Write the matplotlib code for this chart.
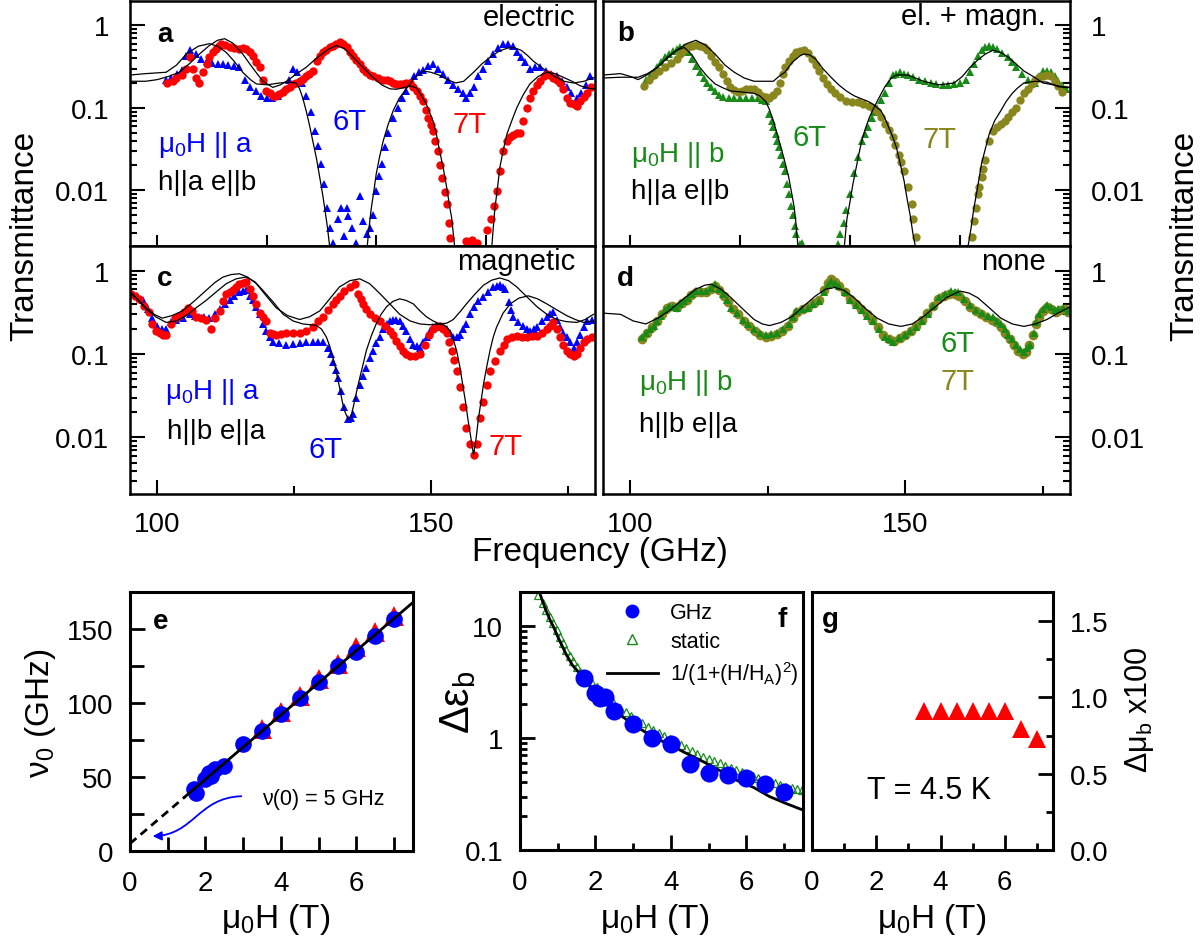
import matplotlib

matplotlib.use("Agg")
import matplotlib.pyplot as plt
import numpy as np
from matplotlib.lines import Line2D
from matplotlib.patches import FancyArrowPatch
from matplotlib.path import Path
from matplotlib.ticker import FixedLocator, FuncFormatter, LogLocator, NullFormatter

plt.rcParams["font.family"] = ["Liberation Sans", "DejaVu Sans"]
plt.rcParams["mathtext.fontset"] = "custom"
plt.rcParams["mathtext.rm"] = "Liberation Sans"
plt.rcParams["mathtext.it"] = "Liberation Sans:italic"
plt.rcParams["mathtext.bf"] = "Liberation Sans:bold"

W, H = 1200, 945
BLUE, RED, GREEN, OLIVE = "#0000ff", "#ff0000", "#178a17", "#8a861e"

# ── spectra (frequency GHz, transmittance) ──────────────────────────
# panel a: electric, mu0H || a
a_6T = [(101.5, 0.22), (102.5, 0.23), (103.5, 0.26), (104.5, 0.29), (105.3, 0.42), (106, 0.50),
        (107, 0.45), (108, 0.39), (109, 0.37), (110, 0.35), (111, 0.34), (112, 0.34), (113, 0.33),
        (114, 0.32), (115, 0.31), (116, 0.22), (117, 0.18), (118, 0.16), (119, 0.14), (120, 0.13),
        (121, 0.13), (122, 0.14), (123, 0.16), (124, 0.22), (124.8, 0.30), (125.6, 0.27), (126.4, 0.2),
        (127.2, 0.14), (128, 0.09), (128.8, 0.052), (129.4, 0.034), (130, 0.021), (130.5, 0.012),
        (131, 0.006), (131.6, 0.0035), (132.1, 0.0023), (133, 0.0045), (133.6, 0.006), (134.2, 0.0028),
        (134.6, 0.0061), (134.9, 0.0048), (135.5, 0.0035), (136.4, 0.0023), (137, 0.0085),
        (137.6, 0.0042), (138.3, 0.0029), (138.8, 0.0035), (139.4, 0.005), (140, 0.0097), (140.5, 0.015),
        (141, 0.021), (141.6, 0.033), (142.2, 0.05), (143.1, 0.076), (144, 0.1), (144.8, 0.13),
        (145.5, 0.16), (146.2, 0.2), (147, 0.24), (147.8, 0.27), (148.6, 0.29), (149.5, 0.32),
        (150.4, 0.34), (151.3, 0.30), (152.3, 0.26), (153.2, 0.22), (154.1, 0.19), (155, 0.17),
        (155.8, 0.15), (156.5, 0.13), (157.2, 0.15), (157.9, 0.18), (158.7, 0.24), (159.6, 0.30),
        (160.5, 0.37), (161.4, 0.45), (162.3, 0.53), (163.2, 0.60), (164.1, 0.60), (165, 0.57),
        (165.7, 0.47), (166.4, 0.41), (167.2, 0.36), (168.1, 0.30), (169, 0.31), (170, 0.31),
        (171, 0.28), (172, 0.26), (173, 0.24), (174, 0.21), (174.8, 0.18), (175.7, 0.15),
        (176.7, 0.13), (177.5, 0.15), (178.3, 0.19), (179.1, 0.245)]
a_7T = [(101.8, 0.20), (102.8, 0.21), (103.4, 0.23), (104.5, 0.25), (105.3, 0.30), (105.9, 0.41),
        (106.5, 0.30), (107.1, 0.23), (107.7, 0.20), (108.3, 0.27), (109, 0.34), (109.5, 0.41),
        (110.2, 0.47), (110.7, 0.52), (111.2, 0.56), (111.7, 0.60), (112.4, 0.58), (113.2, 0.55),
        (114, 0.53), (115, 0.52), (115.6, 0.53), (116.2, 0.52), (116.9, 0.47), (117.5, 0.43),
        (118.1, 0.36), (118.7, 0.31), (119.3, 0.22), (119.9, 0.16), (120.5, 0.15), (121.1, 0.14),
        (121.7, 0.14), (122.3, 0.146), (123, 0.155), (123.6, 0.17), (124.2, 0.18), (124.8, 0.195),
        (125.4, 0.20), (126, 0.21), (126.6, 0.225), (127.2, 0.245), (127.8, 0.26), (128.4, 0.28),
        (129.1, 0.37), (129.7, 0.42), (130.3, 0.47), (130.9, 0.51), (131.5, 0.54), (132.1, 0.57),
        (132.7, 0.60), (133.3, 0.63), (134, 0.60), (134.6, 0.54), (135.2, 0.48), (135.8, 0.43),
        (136.4, 0.38), (137, 0.34), (137.6, 0.30), (138.2, 0.27), (138.8, 0.25), (139.4, 0.245),
        (140.3, 0.23), (141.3, 0.22), (142, 0.215), (142.5, 0.21), (143.1, 0.2), (143.7, 0.195),
        (144.3, 0.195), (144.9, 0.195), (145.5, 0.2), (146.2, 0.2), (146.8, 0.18), (147.4, 0.16),
        (148, 0.14), (148.6, 0.12), (149.1, 0.095), (149.5, 0.076), (150, 0.062), (150.4, 0.052),
        (150.8, 0.04), (151.3, 0.03), (151.7, 0.02), (152, 0.014), (152.5, 0.0095), (152.9, 0.0067),
        (153.3, 0.004), (153.5, 0.0026), (156.4, 0.0024), (157, 0.0022), (157.5, 0.0025),
        (158.4, 0.0023), (160.2, 0.0033), (161, 0.0045), (161.5, 0.0065), (162, 0.0097),
        (162.6, 0.017), (163.2, 0.03), (163.9, 0.04), (164.5, 0.044), (165.1, 0.047), (165.7, 0.049),
        (166.3, 0.05), (166.9, 0.07), (167.5, 0.1), (168.1, 0.13), (168.7, 0.16), (169.4, 0.19),
        (170, 0.21), (170.6, 0.24), (171.2, 0.26), (171.8, 0.25), (172.4, 0.23), (173, 0.215),
        (173.6, 0.20), (174.2, 0.17), (174.8, 0.13), (175.5, 0.115), (176.1, 0.11), (176.7, 0.105),
        (177.3, 0.12), (177.9, 0.135), (178.5, 0.15), (179.2, 0.18)]
a_fit6 = [(95, 0.25), (97.9, 0.26), (101.6, 0.27), (103.5, 0.33), (105.3, 0.45), (107.5, 0.56),
          (109.5, 0.60), (111, 0.56), (112.6, 0.47), (114, 0.37), (115.6, 0.27), (117, 0.22),
          (118.1, 0.195), (120, 0.19), (122.3, 0.20), (124, 0.205), (125.4, 0.2), (126, 0.17),
          (126.6, 0.13), (127.2, 0.092), (127.8, 0.062), (128.4, 0.04), (129.1, 0.024), (129.7, 0.0141),
          (130.2, 0.009), (130.6, 0.006), (131.1, 0.0035), (131.6, 0.0018), (132, 0.001), (138, 0.001),
          (138.3, 0.0019), (138.7, 0.0035), (139.1, 0.006), (139.6, 0.01), (140, 0.0156), (140.6, 0.025),
          (141.3, 0.04), (142.2, 0.063), (143.1, 0.092), (144.2, 0.13), (145.5, 0.17), (147, 0.23),
          (148.6, 0.28), (150, 0.27), (151.5, 0.25), (153, 0.22), (154.5, 0.2), (156, 0.21),
          (157.8, 0.27), (159.3, 0.34), (160.8, 0.41), (162.5, 0.49), (164, 0.53), (165.1, 0.54),
          (166.5, 0.5), (167.7, 0.43), (168.7, 0.37), (170.5, 0.3), (172.4, 0.245), (174.3, 0.21),
          (176.1, 0.2), (178, 0.21), (180, 0.235)]
a_fit7 = [(95, 0.21), (97.9, 0.21), (100, 0.22), (102, 0.24), (104, 0.27), (106, 0.35), (107.7, 0.45),
          (109.5, 0.57), (111, 0.66), (112.3, 0.69), (113.8, 0.61), (115.6, 0.45), (117.5, 0.3),
          (119.3, 0.21), (121.1, 0.177), (122.5, 0.19), (123.6, 0.21), (125.5, 0.26), (127.2, 0.31),
          (128.5, 0.37), (129.7, 0.43), (131.2, 0.51), (132.7, 0.57), (134.3, 0.52), (135.8, 0.41),
          (137.6, 0.31), (139.4, 0.235), (141, 0.19), (142.5, 0.17), (143.7, 0.168), (144.9, 0.175),
          (146.2, 0.185), (147.4, 0.174), (148.3, 0.14), (149.2, 0.11), (150.4, 0.069), (151, 0.048),
          (151.6, 0.03), (152.3, 0.018), (152.9, 0.0107), (153.4, 0.0065), (153.8, 0.0046),
          (154.4, 0.0019), (154.8, 0.001), (160.8, 0.001), (161.1, 0.0019), (161.4, 0.0035),
          (161.7, 0.006), (162.2, 0.011), (162.6, 0.0188), (163.2, 0.03), (163.9, 0.048), (164.8, 0.07),
          (165.7, 0.1), (166.9, 0.145), (168.1, 0.195), (169.6, 0.24), (171.2, 0.27), (172.7, 0.26),
          (174.2, 0.235), (175.8, 0.21), (177.3, 0.185), (179, 0.172), (180, 0.17)]

# panel b: el. + magn., mu0H || b
b_6T = [(102.8, 0.22), (103.5, 0.24), (104.2, 0.27), (104.9, 0.31), (105.6, 0.36), (106.3, 0.41),
        (107, 0.45), (107.7, 0.49), (108.4, 0.52), (109.1, 0.54), (109.8, 0.54), (110.5, 0.47),
        (111.2, 0.39), (111.9, 0.32), (112.6, 0.27), (113.3, 0.23), (114, 0.2), (114.7, 0.18),
        (115.4, 0.16), (116.1, 0.145), (116.8, 0.135), (117.9, 0.13), (118.9, 0.13), (120, 0.13),
        (121.1, 0.13), (122.1, 0.13), (123.2, 0.13), (124, 0.125), (124.6, 0.12), (125.3, 0.084),
        (125.7, 0.07), (126, 0.058), (126.4, 0.048), (126.7, 0.04), (127.1, 0.033), (127.4, 0.027),
        (127.8, 0.021), (128.1, 0.017), (128.5, 0.012), (128.8, 0.009), (129.2, 0.0065), (129.5, 0.005),
        (129.9, 0.0037), (130.2, 0.0029), (130.9, 0.0022), (131.3, 0.0023), (137.8, 0.0022),
        (138.2, 0.0029), (138.8, 0.004), (139.3, 0.0058), (140, 0.009), (140.7, 0.016), (141.4, 0.025),
        (142.1, 0.04), (142.6, 0.048), (143.2, 0.058), (143.9, 0.076), (144.4, 0.088), (144.9, 0.1),
        (145.6, 0.125), (146.3, 0.15), (147, 0.2), (147.7, 0.25), (148.4, 0.26), (149.1, 0.27),
        (149.8, 0.26), (150.5, 0.25), (151.5, 0.235), (152.6, 0.22), (153.6, 0.21), (154.7, 0.2),
        (155.7, 0.195), (156.8, 0.19), (157.8, 0.19), (158.9, 0.195), (160, 0.2), (161.1, 0.22),
        (161.8, 0.27), (162.5, 0.34), (163.2, 0.42), (163.9, 0.5), (164.6, 0.54), (165.3, 0.57),
        (166, 0.55), (166.7, 0.52), (167.7, 0.46), (168.8, 0.41), (169.5, 0.36), (170.2, 0.31),
        (171.2, 0.26), (172.3, 0.22), (173, 0.2), (173.7, 0.2), (174.4, 0.24), (175.1, 0.28),
        (175.8, 0.28), (176.5, 0.27), (177.2, 0.24), (177.9, 0.21), (178.6, 0.19), (179.3, 0.17)]
b_7T = [(102.5, 0.186), (103.3, 0.22), (104.2, 0.25), (105.2, 0.28), (106.3, 0.31), (107.3, 0.35),
        (108.4, 0.39), (109.1, 0.45), (109.8, 0.5), (110.5, 0.55), (111.2, 0.57), (111.9, 0.58),
        (112.6, 0.57), (113.3, 0.54), (114, 0.5), (114.7, 0.43), (115.4, 0.36), (116.1, 0.31),
        (116.8, 0.26), (117.5, 0.21), (118.2, 0.18), (118.9, 0.165), (119.6, 0.155), (120.3, 0.16),
        (121.1, 0.17), (121.8, 0.17), (122.5, 0.168), (123.2, 0.155), (123.9, 0.14), (124.6, 0.135),
        (125.3, 0.13), (126, 0.145), (126.7, 0.16), (127.2, 0.2), (127.7, 0.26), (128.2, 0.31),
        (128.8, 0.37), (129.5, 0.42), (130.2, 0.47), (130.9, 0.49), (131.6, 0.5), (132.3, 0.46),
        (133, 0.39), (133.7, 0.33), (134.4, 0.28), (135.1, 0.23), (135.8, 0.195), (136.5, 0.17),
        (137.2, 0.15), (138.2, 0.135), (139.3, 0.12), (140.3, 0.118), (141.4, 0.116), (142.4, 0.112),
        (143.5, 0.106), (144.2, 0.1), (144.9, 0.092), (145.6, 0.078), (146.3, 0.064), (147, 0.054),
        (147.7, 0.044), (148.2, 0.035), (148.8, 0.027), (149.3, 0.022), (149.8, 0.017), (150.5, 0.0108),
        (151.2, 0.0068), (151.5, 0.0045), (151.9, 0.0027), (162.1, 0.0027), (162.5, 0.0042),
        (162.8, 0.006), (163.2, 0.009), (163.5, 0.011), (163.9, 0.0144), (164.2, 0.018), (164.6, 0.023),
        (165.3, 0.04), (166, 0.053), (166.7, 0.058), (167.4, 0.064), (168.1, 0.07), (168.8, 0.077),
        (169.5, 0.088), (170.2, 0.1), (170.9, 0.125), (171.6, 0.15), (172.3, 0.17), (173, 0.195),
        (173.7, 0.215), (174.4, 0.235), (175.1, 0.245), (175.8, 0.25), (176.5, 0.24), (177.2, 0.21),
        (177.9, 0.185), (178.6, 0.155)]
b_fit6 = [(95, 0.25), (98.2, 0.26), (100, 0.24), (101.4, 0.22), (103, 0.25), (104.9, 0.31),
          (106.7, 0.41), (108.4, 0.5), (109.8, 0.54), (111.2, 0.44), (112.6, 0.31), (114, 0.24),
          (115.4, 0.195), (116.8, 0.175), (118.2, 0.16), (120.5, 0.155), (122.5, 0.15), (123.5, 0.14),
          (124.6, 0.12), (125.3, 0.095), (126, 0.07), (126.7, 0.048), (127.4, 0.033), (128.1, 0.022),
          (128.8, 0.0144), (129.3, 0.0095), (129.8, 0.0062), (130.2, 0.0035), (130.5, 0.002),
          (130.8, 0.001), (138.6, 0.001), (138.9, 0.002), (139.4, 0.0045), (140, 0.0075), (140.5, 0.012),
          (141.1, 0.019), (141.6, 0.028), (142.1, 0.04), (142.8, 0.057), (143.5, 0.077), (144.2, 0.097),
          (144.9, 0.12), (146.3, 0.18), (147.5, 0.23), (148.4, 0.25), (150.5, 0.25), (153.3, 0.21),
          (156.1, 0.19), (158.9, 0.2), (160.4, 0.24), (161.8, 0.31), (163.2, 0.38), (164.6, 0.45),
          (166, 0.5), (167.4, 0.47), (168.8, 0.41), (170.2, 0.34), (171.6, 0.28), (173.3, 0.24),
          (175.1, 0.2), (177, 0.19), (178.6, 0.18), (180, 0.178)]
b_fit7 = [(95, 0.23), (98.2, 0.235), (101.4, 0.235), (103.1, 0.26), (104.9, 0.31), (106.7, 0.4),
          (108.4, 0.5), (110.2, 0.6), (111.9, 0.66), (113.6, 0.58), (115.4, 0.45), (117.2, 0.33),
          (118.9, 0.27), (120.7, 0.23), (122.5, 0.21), (124.5, 0.21), (126, 0.21), (127, 0.24),
          (128.1, 0.27), (129.5, 0.36), (130.9, 0.43), (131.6, 0.45), (132.6, 0.44), (133.7, 0.39),
          (135, 0.3), (136.5, 0.235), (137.9, 0.19), (139.3, 0.16), (140.7, 0.14), (142.1, 0.128),
          (143.2, 0.12), (144.2, 0.11), (144.9, 0.1), (145.6, 0.092), (146.3, 0.075), (147, 0.058),
          (147.7, 0.045), (148.4, 0.033), (149.1, 0.021), (149.8, 0.013), (150.4, 0.0075), (150.9, 0.005),
          (151.4, 0.003), (151.9, 0.002), (152.2, 0.001), (161.1, 0.001), (161.4, 0.002), (162, 0.0035),
          (162.5, 0.006), (163.2, 0.011), (163.9, 0.021), (164.6, 0.032), (165.3, 0.048), (166.3, 0.07),
          (167.4, 0.092), (168.4, 0.12), (169.5, 0.15), (170.5, 0.175), (171.6, 0.2), (173.7, 0.21),
          (175.8, 0.205), (177.9, 0.18), (180, 0.175)]

# panel c: magnetic, mu0H || a
c_6T = [(95.2, 0.53), (96.2, 0.50), (97.3, 0.45), (98.2, 0.35), (99.1, 0.27), (100, 0.22), (100.8, 0.2),
        (101.6, 0.2), (102.5, 0.24), (103.4, 0.26), (104.6, 0.27), (105.9, 0.3), (106.8, 0.29),
        (107.7, 0.28), (108.6, 0.28), (109.5, 0.27), (110.5, 0.3), (111.4, 0.35), (112.3, 0.4),
        (113.2, 0.45), (114.1, 0.5), (115, 0.55), (115.6, 0.57), (116.2, 0.58), (116.9, 0.5),
        (117.5, 0.44), (118.1, 0.37), (118.7, 0.30), (119.3, 0.23), (119.9, 0.19), (120.5, 0.16),
        (121.1, 0.14), (122.3, 0.135), (123.6, 0.13), (124.8, 0.133), (126, 0.135), (127.2, 0.14),
        (128.4, 0.14), (129.4, 0.14), (130.3, 0.14), (131.2, 0.12), (131.7, 0.1), (132.1, 0.08),
        (132.6, 0.064), (133, 0.052), (133.6, 0.036), (134.2, 0.023), (134.9, 0.0165), (135.4, 0.017),
        (135.8, 0.019), (136.4, 0.03), (137, 0.043), (137.6, 0.055), (138.2, 0.069), (138.8, 0.09),
        (139.4, 0.11), (140, 0.135), (140.7, 0.16), (141.3, 0.2), (141.9, 0.23), (142.5, 0.25),
        (143.1, 0.26), (143.7, 0.26), (144.3, 0.25), (144.9, 0.22), (145.5, 0.19), (146.2, 0.15),
        (146.8, 0.13), (147.4, 0.125), (148, 0.12), (148.6, 0.14), (149.2, 0.16), (149.8, 0.19),
        (150.4, 0.21), (151, 0.22), (151.6, 0.22), (152.3, 0.21), (152.9, 0.2), (153.5, 0.18),
        (154.1, 0.16), (154.7, 0.16), (155.3, 0.17), (155.9, 0.2), (156.5, 0.23), (157.2, 0.3),
        (157.8, 0.37), (158.7, 0.43), (159.6, 0.48), (160.5, 0.56), (161.4, 0.64), (162, 0.66),
        (162.6, 0.67), (163.1, 0.64), (163.6, 0.6), (164.2, 0.42), (164.6, 0.34), (165.1, 0.28),
        (166, 0.24), (166.9, 0.22), (167.5, 0.2), (168.1, 0.19), (168.8, 0.2), (169.4, 0.21),
        (170.3, 0.25), (171.2, 0.28), (171.8, 0.3), (172.4, 0.32), (173, 0.26), (173.6, 0.21),
        (174.2, 0.18), (174.8, 0.16), (175.5, 0.14), (176.1, 0.12), (176.7, 0.14), (177.3, 0.17),
        (177.9, 0.21), (178.5, 0.25), (179.4, 0.26)]
c_7T = [(95.2, 0.53), (96, 0.5), (96.7, 0.46), (97.6, 0.38), (98.5, 0.32), (99.1, 0.23), (99.8, 0.19),
        (100.4, 0.18), (101, 0.17), (101.6, 0.17), (102.5, 0.23), (103.2, 0.27), (104, 0.29),
        (104.8, 0.32), (105.6, 0.36), (106.3, 0.33), (107.1, 0.28), (108, 0.27), (108.9, 0.26),
        (109.8, 0.2), (110.6, 0.27), (111.4, 0.33), (112, 0.43), (112.6, 0.53), (113.2, 0.56),
        (113.8, 0.58), (114.4, 0.64), (115, 0.7), (115.6, 0.72), (116.2, 0.73), (116.9, 0.6),
        (117.5, 0.5), (118.1, 0.4), (118.7, 0.31), (119.3, 0.28), (119.9, 0.25), (120.5, 0.18),
        (121.1, 0.175), (121.7, 0.17), (122.6, 0.175), (123.6, 0.18), (124.8, 0.18), (126, 0.18),
        (127.2, 0.19), (128.4, 0.21), (129.4, 0.25), (130.3, 0.28), (131.2, 0.34), (132.1, 0.4),
        (132.7, 0.45), (133.3, 0.5), (134.2, 0.57), (135.2, 0.64), (136.1, 0.7), (136.7, 0.53),
        (137.2, 0.46), (137.6, 0.4), (138.2, 0.35), (138.8, 0.3), (139.7, 0.27), (140.7, 0.25),
        (141.6, 0.22), (142.5, 0.19), (143.1, 0.17), (143.7, 0.145), (144.3, 0.125), (144.9, 0.11),
        (145.5, 0.1), (146.2, 0.095), (147.1, 0.095), (148, 0.1), (148.9, 0.13), (149.7, 0.17),
        (150.4, 0.2), (151, 0.21), (151.6, 0.22), (152.3, 0.2), (152.9, 0.18), (153.4, 0.14),
        (153.8, 0.11), (154.2, 0.085), (154.7, 0.063), (155.3, 0.04), (155.9, 0.023), (156.5, 0.013),
        (157.1, 0.0083), (157.8, 0.0062), (158.4, 0.0083), (159, 0.017), (159.6, 0.027), (160.2, 0.043),
        (160.8, 0.063), (161.7, 0.083), (162.6, 0.11), (163.3, 0.13), (163.9, 0.15), (164.8, 0.16),
        (165.7, 0.165), (166.6, 0.16), (167.5, 0.16), (168.4, 0.165), (169.4, 0.165), (170.3, 0.18),
        (171.2, 0.2), (171.8, 0.22), (172.4, 0.24), (173, 0.2), (173.6, 0.16), (174.2, 0.13),
        (174.8, 0.11), (175.5, 0.1), (176.1, 0.095), (176.7, 0.1), (177.3, 0.12), (177.9, 0.14),
        (178.5, 0.15), (179.4, 0.16)]
c_fit6 = [(95.2, 0.53), (96.5, 0.44), (97.9, 0.35), (99.7, 0.28), (101.6, 0.24), (103.5, 0.25),
          (105.3, 0.29), (107.1, 0.36), (108.9, 0.44), (110.8, 0.56), (112.6, 0.7), (114.4, 0.8),
          (116.2, 0.84), (117.8, 0.74), (119.3, 0.58), (121.2, 0.42), (123, 0.3), (124.8, 0.25),
          (126.6, 0.23), (128, 0.225), (129.1, 0.22), (130, 0.2), (130.9, 0.16), (131.5, 0.125),
          (132.1, 0.091), (132.7, 0.062), (133.3, 0.04), (133.8, 0.027), (134.2, 0.021), (134.9, 0.0165),
          (135.4, 0.018), (135.8, 0.023), (136.4, 0.035), (137, 0.052), (137.6, 0.075), (138.2, 0.11),
          (139.1, 0.165), (140, 0.23), (140.9, 0.3), (141.9, 0.37), (143.1, 0.43), (144.3, 0.46),
          (145.5, 0.44), (146.8, 0.4), (148, 0.33), (149.2, 0.28), (150.4, 0.25), (151.6, 0.23),
          (152.9, 0.235), (154.1, 0.26), (155.3, 0.32), (156.5, 0.4), (158, 0.52), (159.6, 0.67),
          (161.1, 0.77), (162.6, 0.82), (164.2, 0.76), (165.7, 0.64), (167.5, 0.49), (169.4, 0.37),
          (171.2, 0.3), (173, 0.26), (174.8, 0.245), (176.7, 0.24), (178.2, 0.26), (179.7, 0.3)]
c_fit7 = [(95.2, 0.55), (96.5, 0.45), (97.9, 0.36), (99.4, 0.3), (100.9, 0.27), (102.7, 0.29),
          (104.6, 0.33), (106.7, 0.43), (108.9, 0.58), (110.5, 0.72), (112, 0.84), (113.5, 0.9),
          (115, 0.92), (116.5, 0.84), (118.1, 0.7), (119.9, 0.5), (121.7, 0.36), (123.8, 0.29),
          (126, 0.26), (127.8, 0.28), (129.7, 0.33), (131.5, 0.46), (133.3, 0.64), (135.2, 0.76),
          (137, 0.8), (138.8, 0.7), (140.7, 0.53), (142.5, 0.4), (144.3, 0.3), (146.2, 0.25),
          (148, 0.23), (149.8, 0.225), (151.6, 0.23), (152.6, 0.22), (153.5, 0.19), (154.1, 0.15),
          (154.7, 0.11), (155.3, 0.07), (155.9, 0.04), (156.4, 0.025), (156.8, 0.016), (157.3, 0.01),
          (157.8, 0.0062), (158.2, 0.009), (158.7, 0.017), (159.2, 0.028), (159.6, 0.043), (160.2, 0.07),
          (160.8, 0.11), (161.4, 0.16), (162, 0.21), (163.2, 0.31), (164.5, 0.4), (166.1, 0.47),
          (167.8, 0.5), (169.5, 0.46), (171.2, 0.4), (173, 0.34), (174.8, 0.29), (176.4, 0.26),
          (177.9, 0.24), (179.7, 0.25)]

# panel d: none, mu0H || b
d_6T = [(102.1, 0.16), (102.8, 0.18), (103.5, 0.2), (104.2, 0.22), (104.9, 0.25), (105.6, 0.29),
        (106.3, 0.34), (107, 0.38), (107.7, 0.37), (108.4, 0.36), (109.1, 0.4), (109.8, 0.43),
        (110.5, 0.47), (111.2, 0.52), (111.9, 0.57), (112.8, 0.57), (113.7, 0.57), (114.6, 0.62),
        (115.4, 0.69), (116.2, 0.6), (116.9, 0.52), (117.6, 0.44), (118.3, 0.36), (119.3, 0.31),
        (120.4, 0.26), (121.4, 0.23), (122.5, 0.2), (123.5, 0.18), (124.6, 0.17), (125.6, 0.175),
        (126.7, 0.18), (127.7, 0.2), (128.8, 0.23), (129.5, 0.28), (130.2, 0.33), (131.2, 0.35),
        (132.3, 0.36), (133.3, 0.4), (134.4, 0.43), (135.2, 0.55), (136, 0.68), (136.5, 0.76),
        (137.2, 0.71), (137.9, 0.66), (139, 0.55), (140, 0.45), (141, 0.39), (142.1, 0.34),
        (143.1, 0.29), (144.2, 0.25), (145.2, 0.2), (146.3, 0.16), (147, 0.15), (147.8, 0.14),
        (148.8, 0.155), (149.9, 0.17), (150.9, 0.19), (152, 0.21), (153, 0.25), (154.1, 0.3),
        (155.1, 0.38), (156.2, 0.48), (157.2, 0.53), (158.3, 0.57), (159, 0.56), (159.7, 0.55),
        (160.7, 0.46), (161.8, 0.39), (162.8, 0.34), (163.9, 0.31), (165, 0.29), (166, 0.28),
        (166.7, 0.25), (167.4, 0.23), (168.1, 0.2), (168.8, 0.17), (169.5, 0.15), (170.2, 0.13),
        (170.9, 0.115), (171.6, 0.107), (172.2, 0.12), (172.7, 0.13), (173.4, 0.18), (173.9, 0.24),
        (174.4, 0.3), (175.1, 0.35), (175.8, 0.39), (176.5, 0.37), (177.2, 0.34), (177.9, 0.35),
        (178.7, 0.36), (179.7, 0.33)]
d_7T = [(102.1, 0.15), (103, 0.18), (103.9, 0.21), (104.8, 0.25), (105.7, 0.3), (106.6, 0.36),
        (107.5, 0.38), (108.4, 0.37), (109.3, 0.41), (110.2, 0.45), (111.1, 0.51), (112, 0.56),
        (112.9, 0.56), (113.8, 0.55), (114.7, 0.6), (115.4, 0.66), (116.2, 0.58), (117, 0.5),
        (117.8, 0.42), (118.6, 0.35), (119.6, 0.3), (120.6, 0.25), (121.6, 0.22), (122.6, 0.19),
        (123.6, 0.17), (124.6, 0.16), (125.6, 0.165), (126.6, 0.175), (127.6, 0.19), (128.6, 0.22),
        (129.5, 0.27), (130.4, 0.32), (131.4, 0.35), (132.4, 0.37), (133.4, 0.41), (134.4, 0.45),
        (135.2, 0.58), (136, 0.72), (136.5, 0.79), (137.2, 0.73), (138, 0.65), (139, 0.55), (140, 0.46),
        (141, 0.4), (142, 0.35), (143, 0.3), (144, 0.26), (145, 0.21), (146, 0.17), (147, 0.15),
        (148, 0.145), (149, 0.155), (150, 0.17), (151, 0.19), (152, 0.22), (153, 0.26), (154, 0.31),
        (155, 0.38), (156, 0.46), (157, 0.5), (158, 0.52), (159, 0.52), (159.8, 0.5), (160.8, 0.43),
        (161.8, 0.37), (162.8, 0.33), (163.8, 0.3), (164.8, 0.28), (165.8, 0.26), (166.6, 0.24),
        (167.4, 0.21), (168.2, 0.18), (169, 0.15), (169.8, 0.13), (170.6, 0.11), (171.4, 0.1),
        (172, 0.105), (172.6, 0.13), (173.2, 0.17), (173.8, 0.23), (174.4, 0.28), (175, 0.33),
        (175.8, 0.37), (176.6, 0.35), (177.4, 0.32), (178.2, 0.34), (179, 0.35), (179.7, 0.32)]
d_fit = [(95, 0.31), (98.2, 0.3), (100.5, 0.25), (102.8, 0.23), (105, 0.27), (107, 0.33), (109.5, 0.45),
         (111.9, 0.6), (113.5, 0.67), (114.7, 0.69), (116.5, 0.6), (118.3, 0.475), (120.4, 0.35),
         (122.5, 0.26), (124, 0.23), (125.3, 0.22), (127.4, 0.24), (129.5, 0.285), (131.6, 0.38),
         (133.7, 0.5), (135.5, 0.6), (137.2, 0.63), (138.9, 0.58), (140.7, 0.475), (142.8, 0.35),
         (144.9, 0.27), (147, 0.23), (149.2, 0.215), (151.3, 0.23), (153.4, 0.285), (155.5, 0.37),
         (157.6, 0.48), (160, 0.57), (161.6, 0.54), (163.2, 0.475), (165.3, 0.36), (167.4, 0.27),
         (169.5, 0.23), (171.6, 0.215), (173.7, 0.23), (175.8, 0.26), (177.8, 0.31), (180, 0.37)]

# ── field dependences ───────────────────────────────────────────────
e_H_ghz = [1.7, 1.75, 2.0, 2.1, 2.15, 2.25, 2.5, 3.0, 3.5, 4.0, 4.5, 5.0, 5.5, 6.0, 6.5, 7.0]
e_nu_ghz = [42, 39, 48.5, 53, 51, 55.5, 57.5, 72, 81, 92.5, 103.5, 114.5, 125, 134.5, 145.5, 157]
e_H_tri = [3.5, 4.0, 4.5, 5.0, 5.5, 6.0, 6.5, 7.0]
e_nu_tri = [82.4, 93.7, 105, 116, 126.4, 137.6, 147.8, 159]
e_line_H = [1.45, 7.5]
e_line_nu = [36.5, 168]
e_dash_H = [0, 1.45]
e_dash_nu = [5, 36.5]
# annotation arrow: tail, two bend points, head (data coords)
e_arrow_H = [2.95, 1.8, 1.7, 0.6]
e_arrow_nu = [37, 36, 11, 10]

f_H_ghz = [1.7, 1.98, 2.12, 2.25, 2.5, 3.0, 3.5, 4.0, 4.5, 5.0, 5.5, 6.0, 6.5, 7.0]
f_eps_ghz = [3.41, 2.51, 2.26, 2.33, 1.74, 1.33, 0.99, 0.88, 0.59, 0.49, 0.47, 0.44, 0.39, 0.33]
f_H_static = [0.48, 0.6, 0.7, 0.8, 0.88, 0.97, 1.05, 1.14, 1.23, 1.32, 1.41, 1.5, 1.59, 1.68, 1.76,
              1.9, 2.03, 2.16, 2.29, 2.47, 2.65, 2.8, 2.95, 3.09, 3.24, 3.38, 3.53, 3.68, 3.82, 3.97,
              4.12, 4.26, 4.41, 4.56, 4.7, 4.85, 5.0, 5.14, 5.29, 5.44, 5.58, 5.73, 5.88, 6.02, 6.17,
              6.32, 6.46, 6.61, 6.76, 6.9, 7.05, 7.2, 7.35, 7.48]
f_eps_static = [18.9, 16, 13.9, 12, 10.6, 9.2, 8.0, 7.0, 6.1, 5.4, 4.8, 4.3, 3.9, 3.6, 3.4, 3.1, 2.87,
                2.6, 2.34, 2.08, 1.84, 1.7, 1.56, 1.45, 1.35, 1.26, 1.18, 1.1, 1.03, 0.97, 0.91, 0.86,
                0.81, 0.76, 0.72, 0.68, 0.65, 0.62, 0.594, 0.566, 0.542, 0.518, 0.497, 0.477, 0.458,
                0.44, 0.423, 0.407, 0.393, 0.38, 0.367, 0.357, 0.348, 0.34]
f_line_H = [0.5, 0.6, 0.7, 0.8, 0.9, 1.0, 1.1, 1.23, 1.4, 1.67, 2.0, 2.29, 2.65, 3.09, 3.5, 3.97, 4.4,
            4.85, 5.3, 5.73, 6.2, 6.61, 7.05, 7.5]
f_line_eps = [20.5, 16.5, 13.4, 11.2, 9.6, 8.0, 6.8, 5.5, 4.4, 3.5, 2.55, 2.04, 1.6, 1.26, 1.03, 0.866,
              0.73, 0.615, 0.51, 0.42, 0.36, 0.30, 0.26, 0.227]

g_H = [3.5, 4.0, 4.5, 5.0, 5.5, 6.0, 6.5, 7.0]
g_dmu = [0.91, 0.91, 0.91, 0.91, 0.91, 0.91, 0.79, 0.73]

fig = plt.figure(figsize=(12, 9.45), dpi=100)


def box(x0, y0, x1, y1):
    return [x0 / W, 1 - y1 / H, (x1 - x0) / W, (y1 - y0) / H]


def label(x, y, s, **kw):
    kw.setdefault("fontsize", 20)
    kw.setdefault("va", "center")
    fig.text(x / W, 1 - y / H, s, **kw)


def spectra_axes(rect, right, bottom_labels):
    ax = fig.add_axes(box(*rect))
    ax.set_xlim(95, 180)
    ax.set_yscale("log")
    ax.set_ylim(0.0021, 1.98)
    ax.yaxis.set_major_locator(FixedLocator([0.01, 0.1, 1]))
    ax.yaxis.set_minor_locator(LogLocator(base=10, subs=np.arange(2, 10)))
    ax.yaxis.set_major_formatter(FuncFormatter(lambda v, p: f"{v:g}"))
    ax.yaxis.set_minor_formatter(NullFormatter())
    if bottom_labels:
        ax.xaxis.set_major_locator(FixedLocator([100, 150]))
        ax.xaxis.set_minor_locator(FixedLocator([125, 175]))
    else:
        ax.xaxis.set_major_locator(FixedLocator([100, 120, 140, 160]))
        ax.xaxis.set_minor_locator(FixedLocator([]))
    ax.tick_params(which="both", direction="in", width=1.5, labelsize=20, top=False,
                   left=not right, right=right, labelleft=not right, labelright=right,
                   labelbottom=bottom_labels)
    ax.tick_params(axis="y", which="major", length=11, pad=15)
    ax.tick_params(axis="y", which="minor", length=5)
    ax.tick_params(axis="x", which="major", length=10 if bottom_labels else 8, pad=12)
    ax.tick_params(axis="x", which="minor", length=6)
    for s in ax.spines.values():
        s.set_linewidth(1.8)
    return ax


def plot_series(ax, pairs, marker, color, ms=6):
    x, y = np.array(pairs).T
    ax.plot(x, y, ls="none", marker=marker, color=color, ms=ms, mew=0)


def plot_fit(ax, pairs):
    x, y = np.array(pairs).T
    ax.plot(x, y, color="black", lw=0.9)


ax_a = spectra_axes((130, 2, 595, 247), False, False)
plot_series(ax_a, a_6T, "^", BLUE)
plot_series(ax_a, a_7T, "o", RED)
plot_fit(ax_a, a_fit6)
plot_fit(ax_a, a_fit7)

ax_b = spectra_axes((603, 2, 1070, 247), True, False)
plot_series(ax_b, b_6T, "^", GREEN)
plot_series(ax_b, b_7T, "o", OLIVE)
plot_fit(ax_b, b_fit6)
plot_fit(ax_b, b_fit7)

ax_c = spectra_axes((130, 247, 595, 495), False, True)
plot_series(ax_c, c_6T, "^", BLUE)
plot_series(ax_c, c_7T, "o", RED)
plot_fit(ax_c, c_fit6)
plot_fit(ax_c, c_fit7)

ax_d = spectra_axes((603, 247, 1070, 495), True, True)
plot_series(ax_d, d_7T, "o", OLIVE, ms=7)
plot_series(ax_d, d_6T, "^", GREEN)
plot_fit(ax_d, d_fit)

# panel texts
label(157, 35, "a", fontweight="bold")
label(617, 34, "b", fontweight="bold")
label(157, 279, "c", fontweight="bold")
label(617, 279, "d", fontweight="bold")
label(575, 18, "electric", ha="right", fontsize=21)
label(1046, 17, "el. + magn.", ha="right", fontsize=21)
label(575, 262, "magnetic", ha="right", fontsize=21)
label(1046, 262, "none", ha="right", fontsize=21)

label(349, 122, "6T", color=BLUE, ha="center", fontsize=21)
label(470, 125, "7T", color=RED, ha="center", fontsize=21)
label(158, 145, "μ$_0$H || a", color=BLUE)
label(158, 183, "h||a e||b")

label(810, 138, "6T", color=GREEN, ha="center", fontsize=21)
label(940, 140, "7T", color=OLIVE, ha="center", fontsize=21)
label(631, 155, "μ$_0$H || b", color=GREEN)
label(631, 192, "h||a e||b")

label(326, 450, "6T", color=BLUE, ha="center", fontsize=21)
label(505, 447, "7T", color=RED, ha="center", fontsize=21)
label(165, 392, "μ$_0$H || a", color=BLUE)
label(167, 432, "h||b e||a")

label(957, 344, "6T", color=GREEN, ha="center", fontsize=21)
label(957, 382, "7T", color=OLIVE, ha="center", fontsize=21)
label(639, 383, "μ$_0$H || b", color=GREEN)
label(639, 425, "h||b e||a")

label(25, 236, "Transmittance", fontsize=24, rotation=90, ha="center")
label(1185, 236, "Transmittance", fontsize=24, rotation=90, ha="center")
label(600, 553, "Frequency (GHz)", fontsize=24, ha="center")


def field_axes(rect):
    ax = fig.add_axes(box(*rect))
    ax.set_xlim(0, 7.5)
    ax.xaxis.set_major_locator(FixedLocator([0, 2, 4, 6]))
    ax.xaxis.set_minor_locator(FixedLocator([1, 3, 5, 7]))
    ax.tick_params(which="both", direction="in", width=2, labelsize=20, top=False, right=False)
    ax.tick_params(which="major", length=11)
    ax.tick_params(which="minor", length=5)
    ax.tick_params(axis="x", pad=14)
    ax.tick_params(axis="y", pad=12)
    for s in ax.spines.values():
        s.set_linewidth(2.2)
    return ax


# panel e
ax_e = field_axes((130, 593, 413, 852))
ax_e.set_ylim(0, 175)
ax_e.yaxis.set_major_locator(FixedLocator([0, 50, 100, 150]))
ax_e.yaxis.set_minor_locator(FixedLocator([25, 75, 125]))
ax_e.tick_params(which="minor", length=10)
ax_e.plot(e_H_tri, e_nu_tri, ls="none", marker="^", color=RED, ms=14, mew=0)
ax_e.plot(e_H_ghz, e_nu_ghz, ls="none", marker="o", color=BLUE, ms=12, mew=0)
ax_e.plot(e_dash_H, e_dash_nu, color="black", lw=2, ls=(0, (3, 2)))
ax_e.plot(e_line_H, e_line_nu, color="black", lw=2)
arrow_path = Path(list(zip(e_arrow_H, e_arrow_nu)),
                  [Path.MOVETO, Path.CURVE4, Path.CURVE4, Path.CURVE4])
ax_e.add_patch(FancyArrowPatch(path=arrow_path, arrowstyle="-|>", color=BLUE, lw=1.3,
                               mutation_scale=13, transform=ax_e.transData))
label(262, 800, "ν(0) = 5 GHz", fontsize=15.5)
label(153, 622, "e", fontweight="bold")
label(40, 713, "ν$_0$ (GHz)", fontsize=24, rotation=90, ha="center")
label(276, 928, "μ$_0$H (T)", fontsize=24, ha="center", va="baseline")

# panel f
ax_f = field_axes((520, 593, 803, 851))
ax_f.set_yscale("log")
ax_f.set_ylim(0.1, 20)
ax_f.yaxis.set_major_locator(FixedLocator([0.1, 1, 10]))
ax_f.yaxis.set_minor_locator(LogLocator(base=10, subs=np.arange(2, 10)))
ax_f.yaxis.set_major_formatter(FuncFormatter(lambda v, p: f"{v:g}"))
ax_f.yaxis.set_minor_formatter(NullFormatter())
ax_f.tick_params(axis="y", which="major", length=11)
ax_f.tick_params(axis="y", which="minor", length=5)
ax_f.plot(f_H_static, f_eps_static, ls="none", marker="^", ms=6, mfc="none", mec=GREEN, mew=0.9)
ax_f.plot(f_line_H, f_line_eps, color="black", lw=2)
ax_f.plot(f_H_ghz, f_eps_ghz, ls="none", marker="o", color=BLUE, ms=13, mew=0)
handles = [Line2D([], [], ls="none", marker="o", ms=10, color=BLUE, mew=0),
           Line2D([], [], ls="none", marker="^", ms=7, mfc="none", mec=GREEN, mew=1),
           Line2D([], [], color="black", lw=2)]
ax_f.legend(handles, ["GHz", "static", "1/(1+(H/H$_\\mathrm{A}$)$^2$)"], loc="upper right",
            bbox_to_anchor=(0.985, 0.96), frameon=False, fontsize=15.5, handlelength=2.4,
            handletextpad=0.55, labelspacing=0.35, borderpad=0, borderaxespad=0)
label(778, 620, "f", fontweight="bold")
label(458, 702, "Δε$_\\mathrm{b}$", fontsize=30, rotation=90, ha="center")
label(655, 928, "μ$_0$H (T)", fontsize=24, ha="center", va="baseline")

# panel g
ax_g = field_axes((812, 593, 1053, 851))
ax_g.set_ylim(0, 1.69)
ax_g.yaxis.set_major_locator(FixedLocator([0, 0.5, 1.0, 1.5]))
ax_g.yaxis.set_minor_locator(FixedLocator([0.25, 0.75, 1.25]))
ax_g.yaxis.set_major_formatter(FuncFormatter(lambda v, p: f"{v:.1f}"))
ax_g.tick_params(axis="y", which="both", left=False, right=True, labelleft=False, labelright=True)
ax_g.plot(g_H, g_dmu, ls="none", marker="^", color=RED, ms=13, mew=0)
label(929, 791, "T = 4.5 K", fontsize=22, ha="center")
label(822, 620, "g", fontweight="bold")
label(1140, 710, "Δμ$_\\mathrm{b}$ x100", fontsize=22, rotation=90, ha="center")
label(932, 928, "μ$_0$H (T)", fontsize=24, ha="center", va="baseline")

fig.savefig("out.png", dpi=100)
